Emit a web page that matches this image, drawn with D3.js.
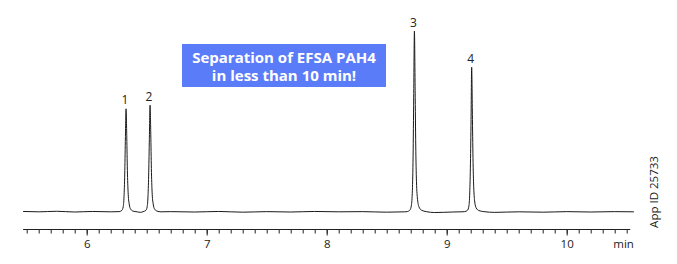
<!DOCTYPE html>
<html>
<head>
<meta charset="utf-8">
<script src="https://cdn.jsdelivr.net/npm/d3@7"></script>
<style>
body { margin: 0; background: #fff; }
text { font-family: "Open Sans", sans-serif; }
</style>
</head>
<body>
<div id="chart"></div>
<script>
// baseline (min, signal)
var baseline = [
  [5.47, 0.3], [5.6, 0.1], [5.75, 0.4], [5.9, 0.0], [6.05, 0.3], [6.2, 0.1],
  [6.45, -0.2], [6.7, 0.2], [6.9, 0.0], [7.1, 0.3], [7.3, -0.1], [7.5, 0.2],
  [7.7, 0.0], [7.9, 0.3], [8.1, 0.1], [8.3, 0.2], [8.5, -0.1], [8.65, 0.1],
  [8.9, -0.3], [9.05, 0.0], [9.12, 0.1], [9.4, -0.2], [9.6, 0.1], [9.8, -0.1],
  [10.0, 0.2], [10.2, 0.0], [10.4, 0.2], [10.56, 0.1]
];
var peak1 = [
  [6.270, 0.2], [6.293, 0.9], [6.304, 2.8], [6.311, 8.5], [6.317, 21], [6.322, 39],
  [6.328, 57], [6.334, 41], [6.339, 23], [6.345, 11], [6.354, 4.5], [6.366, 1.6],
  [6.386, 0.5], [6.42, 0.1]
];
var peak2 = [
  [6.47, 0.2], [6.493, 0.9], [6.504, 2.9], [6.511, 9], [6.517, 22], [6.522, 40],
  [6.528, 59], [6.534, 43], [6.539, 24], [6.545, 11], [6.554, 4.5], [6.566, 1.6],
  [6.586, 0.5], [6.62, 0.1]
];
var peak3 = [
  [8.67, 0.2], [8.694, 1.1], [8.706, 3.8], [8.714, 12], [8.720, 31], [8.725, 63],
  [8.731, 100], [8.737, 67], [8.742, 37], [8.748, 17], [8.757, 7], [8.769, 2.8],
  [8.79, 1], [8.83, 0.2]
];
var peak4 = [
  [9.15, 0.2], [9.174, 1], [9.185, 3.3], [9.192, 10.5], [9.198, 27], [9.203, 51],
  [9.208, 80], [9.214, 54], [9.219, 30], [9.225, 14], [9.234, 5.5], [9.246, 2.2],
  [9.268, 0.8], [9.31, 0.2]
];

var peakLabels = ["1", "2", "3", "4"];
var peakTimes = [6.328, 6.528, 8.731, 9.208];
var peakHeights = [57, 59, 100, 80];

var majorTicks = [6, 7, 8, 9, 10];
var minorTicks = d3.range(55, 106).map(d => d / 10);

var width = 677, height = 264;

var svg = d3.select("#chart").append("svg")
  .attr("width", width)
  .attr("height", height);

var x = d3.scaleLinear().domain([5.5, 10.5]).range([26.7, 626.7]);
var y = d3.scaleLinear().domain([0, 100]).range([212, 31]);

var trace = baseline.concat(peak1, peak2, peak3, peak4)
  .sort((a, b) => a[0] - b[0]);

var line = d3.line()
  .x(d => x(d[0]))
  .y(d => y(d[1]))
  .curve(d3.curveMonotoneX);

svg.append("path")
  .datum(trace)
  .attr("fill", "none")
  .attr("stroke", "#1a1a1a")
  .attr("stroke-width", 1)
  .attr("d", line);

// peak numbers
svg.selectAll(".plab")
  .data(peakLabels)
  .enter().append("text")
  .attr("class", "plab")
  .attr("x", (d, i) => x(peakTimes[i]) - 1)
  .attr("y", (d, i) => y(peakHeights[i]) - 4.5)
  .attr("text-anchor", "middle")
  .attr("font-size", 12)
  .attr("fill", "#222")
  .text(d => d);

// x axis
var axisY = 229.5;
var minorAxis = svg.append("g")
  .attr("transform", `translate(0,${axisY})`)
  .call(d3.axisBottom(x).tickValues(minorTicks).tickSize(4).tickSizeOuter(0).tickFormat(""));
minorAxis.select(".domain").remove();

var majorAxis = svg.append("g")
  .attr("transform", `translate(0,${axisY})`)
  .call(d3.axisBottom(x).tickValues(majorTicks).tickSize(6).tickSizeOuter(0).tickFormat(d3.format("d")));
majorAxis.select(".domain").remove();
majorAxis.selectAll("text")
  .attr("font-family", "Open Sans, sans-serif")
  .attr("font-size", 11.5)
  .attr("fill", "#222")
  .attr("dy", null)
  .attr("y", 18.5);
svg.selectAll(".tick line").attr("stroke", "#222");

svg.append("line")
  .attr("x1", x(5.47)).attr("x2", x(10.53))
  .attr("y1", axisY).attr("y2", axisY)
  .attr("stroke", "#222");

svg.append("text")
  .attr("x", x(10.56))
  .attr("y", 248)
  .attr("text-anchor", "end")
  .attr("font-size", 11.5)
  .attr("fill", "#222")
  .text("min");

// highlight box
var box = svg.append("g");
box.append("rect")
  .attr("x", 182).attr("y", 44)
  .attr("width", 204).attr("height", 43)
  .attr("fill", "#5b7cf9");
box.append("text")
  .attr("x", 284).attr("y", 62.5)
  .attr("text-anchor", "middle")
  .attr("font-size", 15)
  .attr("font-weight", "bold")
  .attr("fill", "#fff")
  .text("Separation of EFSA PAH4");
box.append("text")
  .attr("x", 284).attr("y", 80.5)
  .attr("text-anchor", "middle")
  .attr("font-size", 15)
  .attr("font-weight", "bold")
  .attr("fill", "#fff")
  .text("in less than 10 min!");

svg.append("text")
  .attr("transform", "translate(658,192) rotate(-90)")
  .attr("text-anchor", "middle")
  .attr("font-size", 11.5)
  .attr("fill", "#222")
  .text("App ID 25733");
</script>
</body>
</html>
